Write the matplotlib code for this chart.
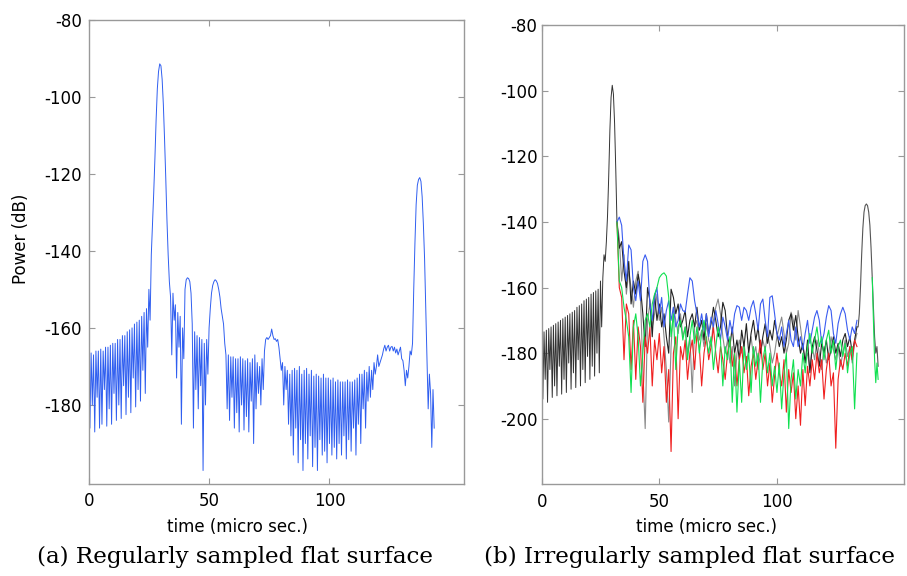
import numpy as np
import matplotlib
matplotlib.use("Agg")
import matplotlib.pyplot as plt

plt.rcParams["axes.unicode_minus"] = False

# ---- panel (a): regularly sampled, one trace, sampled every 0.5 micro sec ----
step_a = 0.5
power_a = [
    -167, -186, -166.5, -180, -167, -187, -166, -178, -166, -186,
    -165.5, -185, -166, -176, -165, -185.5, -165, -181, -164.5, -185,
    -164, -177, -164, -184, -163, -180, -163, -183.5, -162, -175,
    -162, -182.5, -161, -178, -160.5, -182, -160, -173, -159, -180.5,
    -158.5, -176, -158, -179, -157, -171, -156, -177, -155, -165,
    -150, -158, -141, -133, -125, -116, -106, -98, -93.5, -91.5,
    -92, -95.5, -102, -111, -121, -132, -141, -148, -152, -167,
    -151, -158, -154, -173, -156, -165, -157, -185, -160, -168,
    -150, -147.5, -147, -147.2, -148, -151, -159, -186, -161, -176,
    -162, -181, -162.5, -175, -163, -197, -164, -180, -163, -172,
    -160, -155, -151, -149, -148, -147.5, -147.8, -148.5, -150, -152,
    -155, -157, -159, -164, -167, -181, -167, -184, -167.5, -178,
    -167.5, -186, -168, -182, -168, -187, -167.5, -180, -168, -186.5,
    -168.5, -183, -168, -187, -169, -179, -168, -190, -167, -181,
    -169, -177, -170, -180, -168, -176, -166, -163, -162.5, -163,
    -162.5, -162, -160.3, -162, -163, -162.8, -163.5, -163, -165, -168,
    -171, -169, -180, -170, -176, -171, -185, -172, -188, -171,
    -193, -170.5, -186, -171, -195, -170, -189, -172, -197, -171,
    -190, -170.5, -194, -172, -188, -171, -196, -172.5, -191, -172,
    -197, -172.5, -189, -173, -193, -172, -192, -173, -195, -173,
    -190, -173.5, -193, -173, -191, -174, -194, -173.5, -190, -174,
    -193, -174, -188, -174, -194, -173.5, -189, -174, -192, -174,
    -186, -173.5, -193, -173, -185, -172, -190, -172, -181, -171,
    -186, -171.5, -179, -170, -178, -171, -176, -169, -172, -170,
    -167, -170, -169, -168, -167, -165.5, -164.5, -166, -165, -164.5,
    -166, -165, -164.8, -166, -165, -166.5, -165.5, -167, -166, -165,
    -168, -168.5, -171, -175, -171, -173, -170, -166, -167, -164,
    -150, -138, -128, -123, -121.5, -121, -122, -126, -133, -142,
    -155, -168, -181, -172, -177, -191, -176, -186,
]

# ---- panel (b): irregularly sampled, several realisations ----
# common part before the first echo (every 0.5 micro sec, t = 0 .. 32)
head_b = [
    -174, -194, -173.5, -188, -173, -195, -172.5, -185, -172, -193.5,
    -171.5, -190, -171, -193, -170.5, -184, -170, -192.5, -169.5, -188,
    -169, -192, -168.5, -183, -168, -191, -167.5, -186, -167, -190.5,
    -166, -182, -165.5, -190, -165, -185, -164, -189, -163.5, -181,
    -163, -188, -162, -184, -161.5, -187, -161, -180, -160.5, -186,
    -158, -172, -157, -150, -152, -146, -138, -126, -112, -102,
    -98.3, -101, -110, -124, -140,
]

# realisations, every 1 micro sec, t = 32 .. 134
blue_b = [
    -140, -138.5, -141, -152, -158, -147, -148.5, -160, -164, -158,
    -164, -152, -150, -152, -165, -170, -163, -160, -168, -163,
    -172, -167, -164, -170, -166, -172, -170, -165, -167, -167.5,
    -162, -157, -158, -164, -168, -172, -168, -173, -168, -175,
    -169, -172, -167, -171, -176, -169, -172, -176, -170, -174,
    -168, -165.5, -166, -170, -166, -167, -170, -166, -164, -168,
    -173, -165, -163.5, -170, -175, -163, -162.5, -168, -174, -176,
    -172, -178, -174, -170, -176, -178, -172, -178, -175, -179,
    -174, -170, -177, -173, -169, -167, -170, -177, -174, -169,
    -165.5, -167, -174, -177, -171, -168, -166, -168, -173, -176,
    -172, -174, -170,
]
black_b = [
    -140, -148, -146, -155, -160, -152, -165, -158, -162, -156,
    -160, -168, -178, -160, -164, -175, -162, -170, -165, -172,
    -168, -175, -180, -160.5, -163, -168, -165, -172, -170, -167,
    -175, -170, -168, -172, -166, -173, -170, -176, -168, -174,
    -171, -166, -170, -175, -172, -164.5, -167, -175, -178, -172,
    -180, -176, -182, -173, -178, -171, -180, -174, -170, -176,
    -172, -180, -175, -171, -177, -173, -176, -170, -174, -178,
    -175, -180, -176, -170, -168, -173, -168.5, -175, -180, -177,
    -183, -176, -186, -178, -175, -179, -184, -177, -180, -176,
    -182, -179, -175, -180, -177, -181, -176, -174, -178, -175,
    -180, -176, -172,
]
gray_b = [
    -140, -145, -158, -150, -162, -155, -160, -166, -158, -155,
    -163, -185, -203, -170, -165, -172, -168, -162, -170, -166,
    -175, -185, -201, -178, -166, -170, -174, -168, -175, -172,
    -180, -175, -192, -172, -170, -176, -173, -178, -171, -176,
    -178, -170, -166, -163.5, -168, -175, -180, -176, -183, -178,
    -190, -180, -176, -180, -177, -183, -179, -175, -181, -178,
    -185, -180, -176, -179, -174, -178, -183, -180, -175, -172,
    -169, -174, -180, -177, -167.5, -170, -176, -167, -172, -178,
    -182, -180, -185, -178, -182, -176, -180, -185, -178, -183,
    -180, -175, -179, -182, -178, -184, -180, -176, -181, -178,
    -183, -177, -174,
]
red_b = [
    -140, -160, -163, -182, -165, -168, -185, -170, -188, -172,
    -178, -195, -175, -180, -172, -190, -176, -182, -174, -186,
    -178, -195, -185, -210, -180, -175, -200, -178, -182, -176,
    -188, -180, -176, -185, -174, -178, -190, -180, -175, -182,
    -178, -172, -180, -186, -178, -182, -188, -180, -176, -184,
    -180, -190, -182, -178, -186, -181, -193, -184, -180, -188,
    -182, -176, -185, -180, -190, -183, -195, -187, -180, -186,
    -190, -182, -198, -185, -192, -186, -200, -190, -202, -185,
    -196, -184, -190, -182, -188, -180, -186, -182, -194, -185,
    -180, -190, -186, -209, -188, -182, -185, -180, -184, -178,
    -182, -176, -178,
]
green_b = [
    -140, -158, -160, -166, -170, -175, -192, -172, -168, -175,
    -190, -180, -170, -168, -172, -165, -162, -160, -157, -156,
    -155.5, -156.5, -163, -175, -168, -185, -172, -170, -176, -172,
    -182, -175, -170, -177, -172, -180, -174, -170, -176, -180,
    -175, -185, -178, -172, -176, -190, -178, -182, -175, -195,
    -180, -198, -182, -195, -178, -185, -180, -192, -178, -184,
    -180, -195, -182, -178, -186, -180, -190, -184, -192, -183,
    -197, -186, -180, -203, -188, -182, -194, -185, -190, -180,
    -186, -178, -174, -180, -176, -172, -178, -175, -182, -176,
    -173, -180, -176, -185, -178, -176, -181, -177, -186, -180,
    -178, -197, -180,
]

# common second echo (every 0.5 micro sec, t = 134 .. 143)
tail_b = [
    -172, -172, -168, -160, -150, -142, -137, -135, -134.5, -135,
    -137, -141, -148, -157, -166, -175, -180, -178, -184,
]
green_tail_b = [-157, -170, -182, -189, -183, -188]   # t = 140.5 .. 143

t_a = np.arange(len(power_a)) * step_a
t_head = np.arange(len(head_b)) * 0.5
t_mid = 32 + np.arange(len(blue_b))
t_tail = 134 + np.arange(len(tail_b)) * 0.5
t_gtail = 140.5 + np.arange(len(green_tail_b)) * 0.5

spine_col = "#999999"


def style_axes(ax, xmax, ylo, yticks, ypad):
    ax.set_xlim(0, xmax)
    ax.set_ylim(ylo, -80)
    ax.set_xticks([0, 50, 100])
    ax.set_yticks(yticks)
    for s in ax.spines.values():
        s.set_color(spine_col)
        s.set_linewidth(1.0)
    ax.tick_params(axis="both", direction="in", top=True, right=True,
                   length=4, width=0.8, color=spine_col, labelsize=12)
    ax.tick_params(axis="y", pad=ypad)
    ax.tick_params(axis="x", pad=6)


fig = plt.figure(figsize=(9.07, 5.76), dpi=100)

# (a)
ax1 = fig.add_axes([0.0978, 0.1597, 0.4141, 0.8064])
ax1.plot(t_a, power_a, color="#2f5ef0", lw=0.7)
style_axes(ax1, 156, -200.5, [-80, -100, -120, -140, -160, -180], 5)
ax1.set_xlabel("time (micro sec.)", fontsize=12, va="center")
ax1.xaxis.set_label_coords(0.397, -0.092)
ax1.set_ylabel("Power (dB)", fontsize=12, va="center")
ax1.yaxis.set_label_coords(-0.181, 0.527)

# (b)
ax2 = fig.add_axes([0.5972, 0.1592, 0.3995, 0.7969])
ax2.plot(t_head, head_b, color="#333333", lw=0.7)
ax2.plot(t_mid, gray_b, color="#8a8a8a", lw=0.8)
ax2.plot(t_mid, black_b, color="#222222", lw=0.8)
ax2.plot(t_mid, red_b, color="#f02020", lw=0.8)
ax2.plot(t_mid, blue_b, color="#3a5cf0", lw=0.8)
ax2.plot(t_mid, green_b, color="#10e050", lw=0.8)
ax2.plot(t_tail, tail_b, color="#555555", lw=0.8)
ax2.plot(t_gtail, green_tail_b, color="#10e050", lw=0.8)
style_axes(ax2, 154, -220, [-80, -100, -120, -140, -160, -180, -200], 3)
ax2.set_xlabel("time (micro sec.)", fontsize=12, va="center")
ax2.xaxis.set_label_coords(0.456, -0.094)

# captions
fig.text(0.0411, 0.033, "(a) Regularly sampled flat surface",
         family="DejaVu Serif", fontsize=16.6, ha="left", va="center")
fig.text(0.5340, 0.033, "(b) Irregularly sampled flat surface",
         family="DejaVu Serif", fontsize=16.6, ha="left", va="center")

fig.savefig("out.png", dpi=100)
